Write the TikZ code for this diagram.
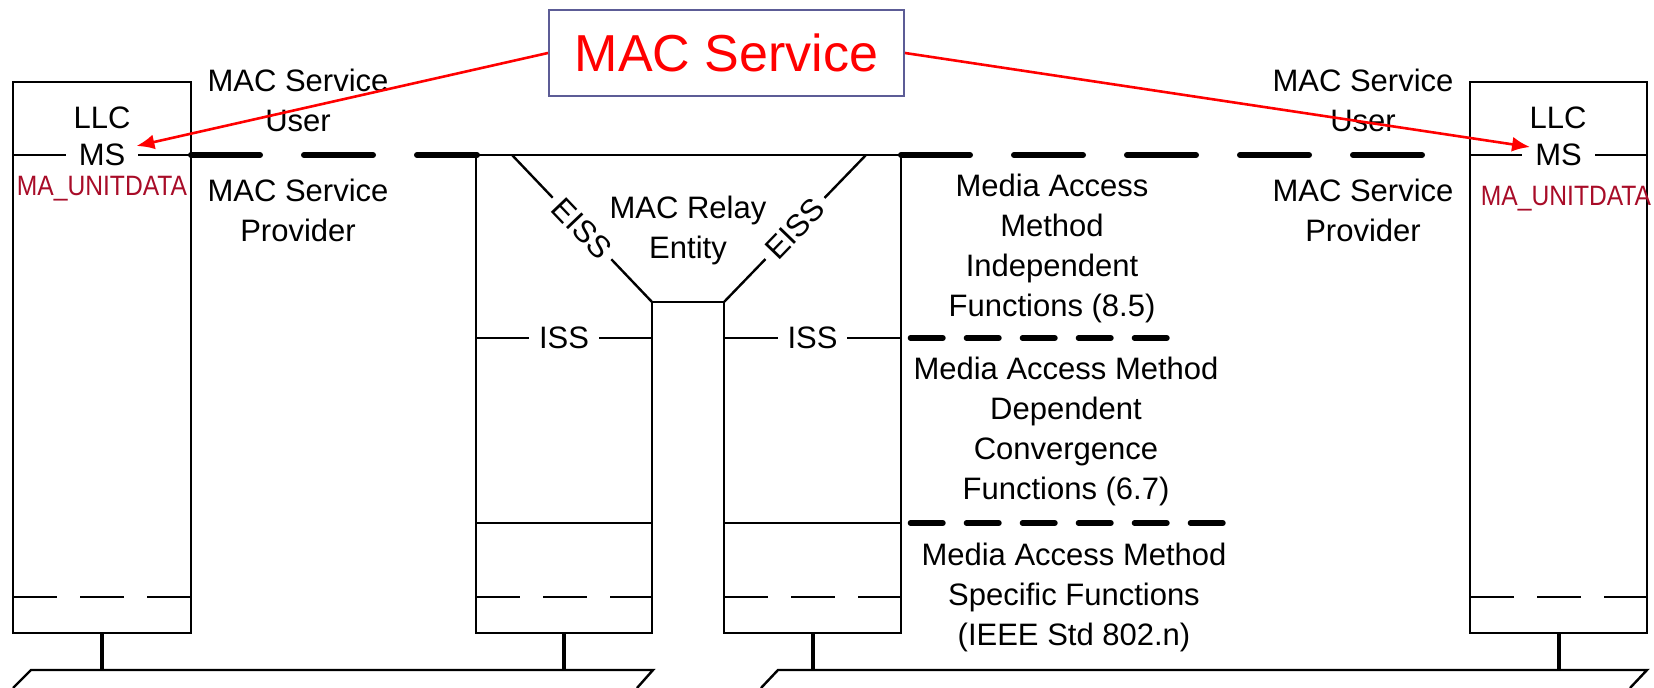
\documentclass[tikz,border=0pt]{standalone}
\usepackage{fontspec}
\setmainfont{Liberation Sans}
\newfontfamily\narrowfont[FakeStretch=0.88]{Liberation Sans}
\usepackage{tikz}
\usetikzlibrary{arrows.meta,calc}
\definecolor{macred}{RGB}{255,0,0}
\definecolor{unitred}{RGB}{168,12,40}
\definecolor{boxblue}{RGB}{92,92,150}

\begin{document}
\begin{tikzpicture}[x=0.5pt,y=-0.5pt]
			\tikzset{lbl/.style = {align=center,font=\fontsize{15.5}{20}\selectfont,inner sep=0pt}}
			
			\tikzset{gap/.style = {lbl,fill=white,inner xsep=5pt,inner ysep=1pt}}
			
			\tikzset{prim/.style = {text=unitred,font=\narrowfont\fontsize{14}{16}\selectfont,inner sep=0pt}}
			
			\tikzset{thin/.style = {line width=1.2pt}}
			
			\tikzset{stem/.style = {line width=2pt}}
			
			\tikzset{bigdash/.style = {line width=3pt,line cap=round,dash pattern=on 34.5pt off 22pt}}
			
			\tikzset{middash/.style = {line width=2.8pt,line cap=round,dash pattern=on 16.2pt off 11.8pt}}
			
			\tikzset{boxdash/.style = {line width=1.4pt,dash pattern=on 22pt off 11.5pt}}
			
			\tikzset{service/.style = {->,> = {Latex[length=9pt,width=7.5pt]},draw=macred,line width=1.3pt}}
			
			\useasboundingbox (0,0) rectangle (1654,688);
			
			% stations
			
			\draw[thin] (13,82) rectangle (191,633);
			
			\draw[thin] (1470,82) rectangle (1647,633);
			
			\draw[boxdash] (13,597) -- (191,597);
			
			\draw[boxdash] (1470,597) -- (1647,597);
			
			\draw[thin] (13,155) -- node[gap,inner xsep=6.5pt] (msL) {MS} (191,155);
			
			\draw[thin] (1470,155) -- node[gap,inner xsep=6.5pt] (msR) {MS} (1647,155);
			
			\node[lbl] (llcL) at (102,118) {LLC};
			
			\node[lbl] (llcR) at (1558,118) {LLC};
			
			\node[prim] (unitL) at (102,189) {MA\_UNITDATA};
			
			\node[prim] (unitR) at (1566,199) {MA\_UNITDATA};
			
			% bridge
			
			\draw[thin] (476,633) -- (476,155) -- (901,155) -- (901,633) -- (724,633) -- (724,302) -- (652,302) -- (652,633) -- cycle;
			
			\draw[thin] (512,155) -- node[gap,sloped,inner xsep=3.5pt] (eissL) {EISS} (652,302);
			
			\draw[thin] (724,302) -- node[gap,sloped,inner xsep=3.5pt] (eissR) {EISS} (866,155);
			
			\draw[thin] (476,338) -- node[gap] (issL) {ISS} (652,338);
			
			\draw[thin] (724,338) -- node[gap] (issR) {ISS} (901,338);
			
			\draw[thin] (476,523) -- (652,523);
			
			\draw[thin] (724,523) -- (901,523);
			
			\draw[boxdash] (476,597) -- (652,597);
			
			\draw[boxdash] (724,597) -- (901,597);
			
			\node[lbl] (relay) at (688,230) {MAC Relay\\Entity};
			
			% layer boundaries
			
			\draw[bigdash] (191,155) -- (477,155);
			
			\draw[bigdash] (901,155) -- (1428,155);
			
			\draw[middash] (910.5,338) -- (1172,338);
			
			\draw[middash] (910.5,523) -- (1228,523);
			
			\node[lbl] (userL) at (298,100) {MAC Service\\User};
			
			\node[lbl] (provL) at (298,210) {MAC Service\\Provider};
			
			\node[lbl] (userR) at (1363,100) {MAC Service\\User};
			
			\node[lbl] (provR) at (1363,210) {MAC Service\\Provider};
			
			\node[lbl] (indep) at (1052,248) {Media Access\\Method\\Independent\\Functions (8.5)};
			
			\node[lbl] (dep) at (1066,431) {Media Access Method\\Dependent\\Convergence\\Functions (6.7)};
			
			\node[lbl] (spec) at (1074,597) {Media Access Method\\Specific Functions\\(IEEE Std 802.n)};
			
			% LANs
			
			\draw[stem] (102,633) -- (102,670);
			
			\draw[stem] (564,633) -- (564,670);
			
			\draw[stem] (812.5,633) -- (812.5,670);
			
			\draw[stem] (1558.5,633) -- (1558.5,670);
			
			\draw[thin] (13,688) -- (31,670) -- (653,670) -- (637,688);
			
			\draw[thin] (761,688) -- (778,670) -- (1647,670) -- (1630,688);
			
			%edges
			
			\node[draw=boxblue,line width=1pt,text=macred,font=\fontsize{26}{30}\selectfont,minimum width=177.5pt,minimum height=43pt] (svc) at (726.5,53) {MAC Service};
			
			\draw[service] (svc.west) -- ($(msL.east)+(-3,-9)$);
			
			\draw[service] (svc.east) -- ($(msR.west)+(9,-8)$);
			\end{tikzpicture}
\end{document}
